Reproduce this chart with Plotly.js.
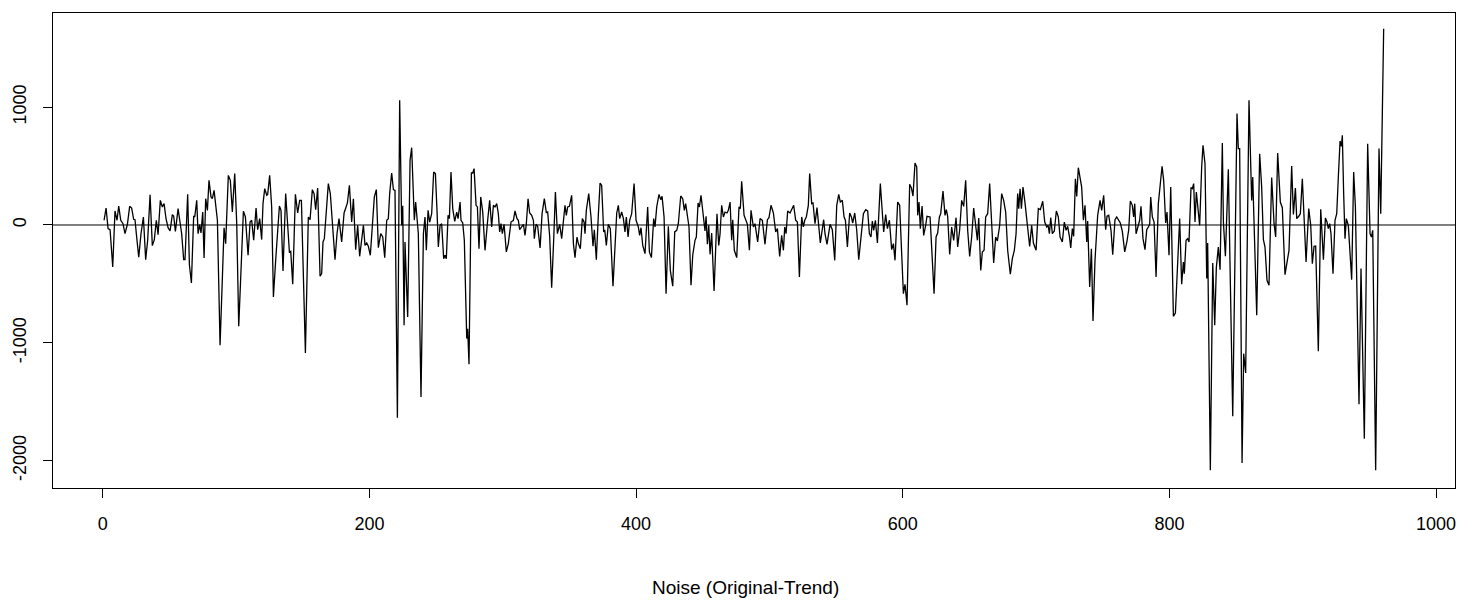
<!DOCTYPE html>
<html>
<head>
<meta charset="utf-8">
<script src="https://cdn.plot.ly/plotly-3.0.1.min.js"></script>
<style>html,body{margin:0;padding:0;background:#fff;}#chart{width:1474px;height:603px;}</style>
</head>
<body>
<div id="chart"></div>
<script>
// Traced vertices of the noise series (index, value)
const idx = [
1.0,2.5,4.0,5.5,7.5,9.2,10.7,12.0,13.5,15.2,16.7,18.5,20.2,21.7,23.2,24.2,25.2,27.0,28.7,30.5,32.2,33.7,35.5,37.2,38.7,40.2,41.5,43.2,44.7,46.0,47.5,49.0,50.5,52.2,53.2,54.5,56.5,58.0,59.2,60.7,61.7,63.7,65.0,66.5,68.2,69.0,70.5,71.5,72.7,73.7,75.0,76.0,77.2,78.5,79.7,81.2,82.2,83.5,84.7,86.0,88.0,89.7,91.0,92.2,
94.2,95.7,97.2,99.0,100.5,102.0,103.7,105.5,107.0,109.0,110.5,111.7,113.2,115.0,116.2,117.7,119.2,120.2,121.5,123.0,123.7,125.2,126.7,128.0,129.7,132.5,133.7,135.2,137.2,138.7,140.0,141.0,142.5,144.5,146.2,147.7,149.0,152.0,154.2,155.5,157.2,158.5,159.7,161.2,163.0,164.2,165.2,166.2,167.7,169.2,170.7,172.5,174.2,175.7,177.2,179.2,181.0,182.5,183.5,185.0,186.7,188.0,189.7,191.2,192.7,
195.5,196.7,198.0,199.2,200.7,202.5,203.7,205.2,206.7,208.5,210.0,211.5,213.0,214.2,215.2,216.7,218.0,219.2,221.0,222.7,224.2,225.0,226.0,226.7,228.7,230.5,231.7,233.7,234.7,236.7,238.7,240.5,241.7,242.7,244.0,245.2,246.7,248.2,249.5,250.7,251.7,253.0,254.2,255.7,256.7,257.7,259.0,260.0,261.2,262.5,264.0,265.5,266.5,268.0,268.7,270.0,271.2,273.0,273.7,274.7,276.5,277.5,278.5,280.0,281.0,282.2,283.5,285.0,286.7,288.7,290.2,
291.7,293.0,294.2,295.5,296.7,297.7,298.7,299.7,301.0,302.7,304.2,306.2,308.0,309.2,310.7,311.7,312.7,314.2,315.5,316.7,317.7,319.0,320.2,321.7,323.0,323.7,325.0,326.2,328.0,329.5,331.2,332.7,333.7,335.2,336.7,338.2,339.5,341.0,342.7,344.2,345.5,346.7,347.7,348.7,350.0,351.7,353.0,354.2,355.7,356.7,358.2,359.7,361.0,361.7,362.7,364.5,366.2,367.7,368.7,370.2,371.7,373.0,374.2,375.7,376.5,377.7,379.2,380.7,382.7,
385.5,386.7,387.7,389.2,390.5,391.7,392.7,394.0,395.2,396.7,398.5,400.0,401.7,402.7,403.7,405.0,406.7,408.7,410.0,411.5,413.2,414.2,415.5,417.2,418.5,419.5,421.0,422.5,424.2,425.7,427.5,429.0,430.5,431.7,433.5,435.0,436.2,437.2,439.0,439.7,441.2,442.5,444.2,445.2,446.5,447.5,448.7,450.2,451.7,452.5,453.5,454.5,455.5,456.7,458.5,460.7,462.0,463.0,464.2,465.5,466.7,468.2,469.2,470.5,471.7,472.5,473.7,475.5,477.2,478.2,479.2,481.0,482.5,483.5,485.0,
486.2,488.0,489.2,491.2,493.0,494.7,496.7,498.5,499.7,501.2,503.0,504.7,506.0,507.7,509.2,510.5,511.5,512.5,513.7,515.5,517.0,518.2,519.7,521.0,522.5,524.2,525.5,526.5,527.7,529.2,530.2,531.7,532.7,534.2,535.7,536.7,538.2,540.7,541.7,543.2,545.5,547.2,549.0,550.5,552.0,553.2,554.7,556.0,557.0,558.5,560.2,561.5,562.5,564.0,565.5,567.0,568.7,570.5,572.2,573.7,575.0,576.2,577.2,578.2,579.5,581.0,
583.2,584.5,585.7,587.2,588.5,590.0,591.7,593.0,594.2,596.2,597.7,599.2,600.5,601.7,603.2,605.2,606.5,607.7,609.2,610.5,611.2,612.2,613.2,614.5,615.7,617.2,618.2,620.5,622.0,623.5,625.0,626.2,627.5,628.5,630.2,631.7,632.7,633.7,635.2,636.7,638.2,640.0,641.2,642.7,644.2,645.7,647.2,648.7,650.2,651.7,653.2,654.7,656.0,657.0,658.5,659.7,661.0,662.2,663.7,665.2,666.7,668.2,669.7,671.0,672.7,674.2,675.7,677.2,
678.7,680.7,682.2,683.7,685.0,686.2,687.0,688.0,689.0,690.2,691.7,693.2,695.2,696.7,698.0,700.0,701.7,703.2,705.0,706.5,708.0,709.0,710.0,711.0,712.2,713.7,715.2,716.7,718.0,719.7,721.2,722.5,723.7,725.0,726.0,727.2,728.2,729.5,730.5,731.7,733.0,734.2,735.5,736.7,738.0,738.7,740.2,741.5,742.7,744.2,746.2,748.0,749.2,750.7,752.2,753.2,754.5,756.2,757.5,759.2,760.5,762.0,763.2,764.7,766.5,768.2,769.5,770.7,772.2,773.2,774.0,775.0,776.2,777.7,778.7,
780.2,781.7,783.0,784.2,785.2,786.0,787.2,788.5,790.0,791.7,793.2,794.5,795.7,797.2,798.2,799.7,801.0,803.0,804.5,806.2,807.7,809.2,810.5,811.2,812.5,813.7,814.7,816.2,817.2,818.2,819.2,820.2,821.7,822.7,824.2,825.2,826.7,828.0,828.7,830.7,832.5,834.0,835.2,836.7,838.0,839.7,840.5,842.0,844.2,846.2,847.5,850.7,851.7,852.7,854.5,855.7,857.2,859.7,861.7,862.5,863.7,865.5,867.7,869.2,870.5,871.7,873.2,874.7,
876.7,878.5,879.7,881.2,883.2,884.7,886.7,888.5,889.7,891.7,893.0,894.5,895.5,897.0,898.2,899.7,901.2,902.5,904.5,906.0,907.2,908.5,909.7,911.7,913.5,915.5,917.0,918.2,919.2,920.2,921.2,922.7,924.2,925.5,926.7,928.0,929.0,929.7,930.7,931.7,932.7,934.2,935.5,936.7,938.2,939.5,940.5,942.2,943.7,944.7,946.2,948.7,950.5,951.5,952.5,954.7,957.2,958.5,960.7
];
const noise = [
40,144,-31,-40,-356,119,40,161,40,11,-74,6,158,144,48,45,-74,-274,-74,68,-294,-130,257,-175,-124,40,-82,209,153,181,51,-23,-51,88,76,-54,139,20,-74,-294,-294,260,-337,-492,76,68,209,-74,3,-68,110,-280,223,124,379,238,223,294,139,40,-1021,-385,-23,-158,
421,379,110,436,11,-860,-300,116,68,-257,25,40,-130,144,-40,54,-124,181,308,252,260,421,153,-611,-300,161,124,-390,266,40,-229,-223,-503,260,102,209,209,-1086,68,45,300,266,130,314,-435,-413,-144,-116,124,351,266,-45,-294,-74,54,-144,102,153,187,336,25,223,-209,-3,-266,
-3,-173,-153,-181,-257,11,238,300,-192,-74,-102,-277,40,54,266,441,300,294,-1635,1058,-3,164,-851,-144,-781,549,656,40,195,-74,-1459,-74,68,-215,124,25,96,450,436,124,-187,-3,11,-286,-257,-286,82,54,450,139,31,110,54,195,40,17,-130,-964,-880,-1182,441,441,478,167,153,-201,238,110,-215,40,209,
-17,167,153,181,96,-59,11,-74,6,-229,-158,25,40,119,54,40,-40,-17,6,-88,11,223,102,82,40,-116,6,-11,-195,96,223,105,110,-96,-532,-130,280,-74,6,-116,6,167,82,153,158,252,-158,-277,-102,-158,-201,54,25,-74,124,266,68,-181,-40,-294,82,356,336,-59,-40,-173,6,-31,-520,
102,167,54,110,54,-59,68,-102,40,96,351,40,-17,-88,-23,-173,-243,153,-229,-277,54,-17,153,260,215,243,68,-583,-11,-385,-520,-59,-45,11,246,223,124,181,45,-17,-512,-257,-130,-102,187,153,252,82,-51,74,-164,-3,-249,-68,-560,96,-173,-74,167,68,110,102,124,195,-130,45,-215,-277,153,139,370,82,40,6,-215,
124,-17,11,-144,54,40,-164,45,62,167,102,-59,-31,-266,-88,-215,-17,-74,119,102,139,167,40,25,-441,68,-17,40,68,167,436,181,187,11,147,40,-153,45,-74,-164,6,-40,-300,167,260,195,209,68,40,-187,102,68,17,102,-45,-294,-74,96,130,119,-74,-102,34,-45,40,-153,
351,153,-59,88,-31,40,-209,-158,-300,195,167,-243,-583,-503,-681,345,314,246,526,492,82,195,-31,161,-88,-3,74,68,-243,-583,-102,-68,68,96,288,82,130,74,-249,-17,-130,62,-187,-40,209,158,379,-45,-266,-102,144,-3,-130,59,-385,-229,-215,68,96,351,6,-322,-102,-136,-3,266,209,110,
-215,-418,-286,-215,-74,266,139,308,139,322,187,11,-181,-3,-153,-215,139,130,201,25,-17,-3,-74,62,-74,-51,119,68,-102,-144,25,-45,-11,-96,-195,-31,-96,393,243,486,407,322,40,167,-144,34,-526,-201,-814,-300,82,209,124,252,-40,74,82,-45,-252,45,68,40,17,-54,-229,-136,-40,204,167,68,181,-74,-31,40,158,
-116,-209,-40,-17,6,238,68,25,-441,181,379,498,379,17,110,-257,322,-775,-747,-300,54,-503,-314,-413,-130,-116,-144,317,308,351,25,280,82,-3,492,676,520,-455,-153,-2081,-322,-851,-362,-187,-379,696,25,-266,472,-667,-1623,945,648,648,-2019,-1092,-1256,1058,209,407,-45,-766,605,322,-124,-187,-469,-512,
402,11,-102,611,195,147,-421,-271,-215,500,90,314,54,74,96,393,-74,-314,139,-3,-328,-181,-178,-1072,133,-294,59,25,-31,11,-74,-413,40,96,407,713,667,761,266,-116,54,-3,-243,-464,450,153,-469,-1521,-370,-950,-1813,690,-74,-102,-45,-2081,648,96,1666
];
const xTicks = [0, 200, 400, 600, 800, 1000];
const yTicks = [-2000, -1000, 0, 1000];
const xLabel = "Noise (Original-Trend)";

const trace = {
  x: idx, y: noise, type: 'scatter', mode: 'lines',
  line: {color: '#000000', width: 1.3}, hoverinfo: 'skip'
};
const fontFam = '"Liberation Sans", Arial, sans-serif';
const layout = {
  width: 1474, height: 603,
  margin: {l: 53, r: 19, t: 13, b: 115, pad: 0},
  paper_bgcolor: '#ffffff', plot_bgcolor: '#ffffff',
  showlegend: false,
  font: {family: fontFam, size: 18, color: '#000000'},
  xaxis: {
    range: [-37.3, 1014.2], tickmode: 'array', tickvals: xTicks,
    ticktext: xTicks.map(String),
    ticks: 'outside', ticklen: 9, tickwidth: 1, tickcolor: '#000',
    showline: true, mirror: true, linecolor: '#000', linewidth: 1,
    showgrid: false, zeroline: false,
    tickfont: {family: fontFam, size: 18, color: '#000'},
    ticklabelstandoff: 10
  },
  yaxis: {
    range: [-2232, 1799], tickmode: 'array', tickvals: yTicks,
    ticktext: yTicks.map(String),
    ticks: 'outside', ticklen: 9, tickwidth: 1, tickcolor: '#000',
    showline: true, mirror: true, linecolor: '#000', linewidth: 1,
    showgrid: false, zeroline: false, tickangle: -90,
    tickfont: {family: fontFam, size: 18, color: '#000'},
    ticklabelstandoff: 10
  },
  shapes: [{
    type: 'line', xref: 'paper', yref: 'y', x0: 0, x1: 1, y0: 0, y1: 0,
    line: {color: '#000', width: 1}
  }],
  annotations: [{
    text: xLabel, xref: 'paper', yref: 'paper', x: 0.4936, y: -0.21,
    xanchor: 'center', yanchor: 'middle', showarrow: false,
    font: {family: fontFam, size: 19, color: '#000'}
  }]
};
Plotly.newPlot('chart', [trace], layout, {staticPlot: true, displayModeBar: false});
</script>
</body>
</html>
